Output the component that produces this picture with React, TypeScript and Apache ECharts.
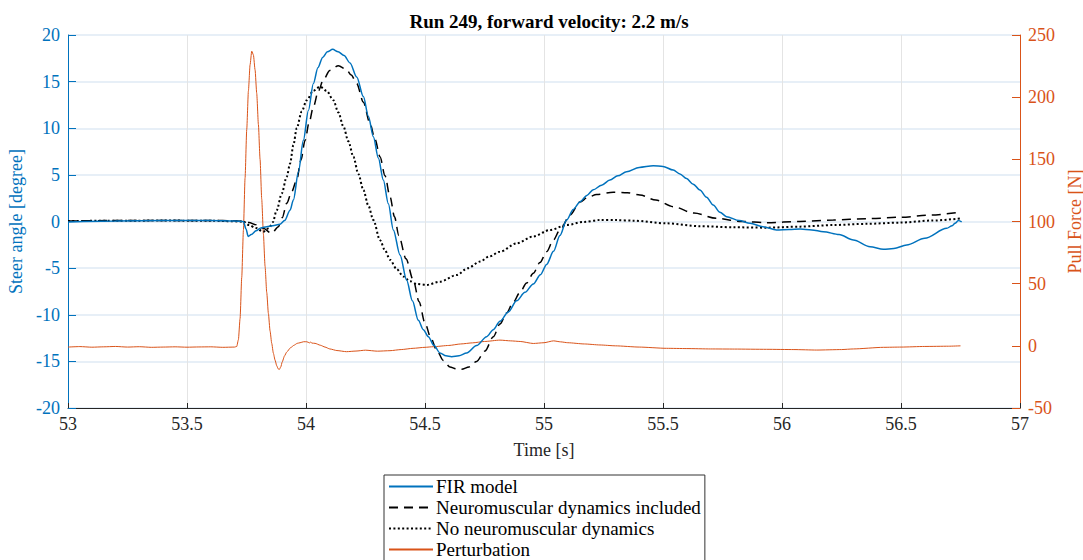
import React, { useEffect, useRef } from "react";
import * as echarts from "echarts";

const titleText = "Run 249, forward velocity: 2.2 m/s";
const xTicks = [53, 53.5, 54, 54.5, 55, 55.5, 56, 56.5, 57];

const firTime = [53.0, 53.2, 53.4, 53.6, 53.7, 53.737, 53.748, 53.757, 53.77, 53.79, 53.81, 53.835, 53.86, 53.89, 53.91, 53.933, 53.947, 53.968, 53.989, 54.01, 54.031, 54.05, 54.07, 54.09, 54.112, 54.135, 54.16, 54.185, 54.213, 54.241, 54.262, 54.283, 54.304, 54.325, 54.346, 54.367, 54.395, 54.423, 54.447, 54.472, 54.493, 54.514, 54.538, 54.563, 54.588, 54.612, 54.643, 54.675, 54.717, 54.759, 54.787, 54.815, 54.85, 54.885, 54.92, 54.955, 54.985, 55.011, 55.04, 55.067, 55.095, 55.123, 55.151, 55.18, 55.207, 55.242, 55.277, 55.31, 55.347, 55.4, 55.459, 55.5, 55.543, 55.571, 55.599, 55.627, 55.655, 55.683, 55.711, 55.739, 55.767, 55.82, 55.866, 55.92, 55.977, 56.03, 56.076, 56.125, 56.174, 56.24, 56.3, 56.37, 56.426, 56.47, 56.524, 56.6, 56.692, 56.715, 56.727, 56.741, 56.755];
const firAngle = [-0.05, 0.05, 0.1, 0.1, 0.05, 0.0, -0.8, -1.6, -1.4, -1.0, -0.7, -0.55, -0.45, -0.3, 0.1, 1.2, 2.3, 5.3, 8.7, 11.9, 14.8, 16.5, 17.6, 18.2, 18.46, 18.2, 17.8, 17.0, 15.5, 13.4, 11.3, 9.1, 6.8, 4.45, 1.9, -0.9, -3.6, -6.3, -8.5, -10.6, -11.6, -12.35, -13.3, -14.1, -14.4, -14.5, -14.4, -14.1, -13.3, -12.35, -11.6, -10.7, -9.7, -8.5, -7.6, -6.7, -5.7, -4.6, -3.2, -1.5, 0.16, 1.3, 2.1, 2.8, 3.4, 3.9, 4.45, 4.9, 5.34, 5.8, 5.98, 5.9, 5.52, 5.1, 4.6, 4.0, 3.38, 2.6, 1.77, 1.0, 0.52, 0.1, -0.2, -0.55, -0.91, -0.85, -0.8, -0.9, -1.09, -1.4, -1.98, -2.7, -2.98, -2.9, -2.52, -1.8, -0.73, -0.45, -0.2, 0.1, -0.05];

const nmTime = [53.0, 53.2, 53.4, 53.6, 53.7, 53.76, 53.79, 53.82, 53.856, 53.884, 53.9, 53.919, 53.94, 53.961, 53.979, 53.996, 54.013, 54.031, 54.052, 54.073, 54.1, 54.136, 54.17, 54.19, 54.213, 54.241, 54.269, 54.29, 54.311, 54.332, 54.353, 54.372, 54.39, 54.42, 54.451, 54.475, 54.5, 54.525, 54.549, 54.577, 54.605, 54.63, 54.654, 54.685, 54.717, 54.752, 54.787, 54.815, 54.843, 54.87, 54.899, 54.927, 54.955, 54.983, 55.011, 55.039, 55.067, 55.11, 55.151, 55.185, 55.221, 55.291, 55.35, 55.403, 55.47, 55.543, 55.63, 55.725, 55.83, 55.935, 56.076, 56.216, 56.356, 56.496, 56.63, 56.754];
const nmAngle = [0.05, 0.1, 0.12, 0.12, 0.08, -0.1, -0.35, -0.73, -1.27, -0.55, 0.4, 1.95, 3.2, 4.45, 6.6, 8.7, 10.6, 12.3, 14.0, 15.2, 16.2, 16.7, 16.3, 15.7, 14.8, 12.8, 10.5, 8.8, 6.95, 4.9, 2.66, 0.5, -1.5, -4.0, -6.3, -8.6, -10.9, -12.5, -13.8, -14.9, -15.6, -15.8, -15.85, -15.6, -15.0, -13.9, -12.35, -11.0, -9.8, -8.7, -7.6, -6.6, -5.56, -4.4, -3.24, -2.0, -0.9, 0.7, 2.1, 2.6, 2.9, 3.13, 3.08, 2.84, 2.3, 1.59, 0.9, 0.34, 0.0, -0.13, 0.0, 0.16, 0.3, 0.45, 0.7, 1.02];

const noNmTime = [53.0, 53.2, 53.4, 53.6, 53.737, 53.76, 53.79, 53.82, 53.845, 53.86, 53.877, 53.898, 53.919, 53.933, 53.947, 53.961, 53.982, 54.003, 54.03, 54.059, 54.087, 54.115, 54.136, 54.157, 54.178, 54.199, 54.22, 54.241, 54.262, 54.283, 54.311, 54.332, 54.353, 54.381, 54.409, 54.437, 54.465, 54.507, 54.563, 54.633, 54.68, 54.731, 54.77, 54.815, 54.885, 54.955, 55.025, 55.095, 55.165, 55.235, 55.305, 55.375, 55.515, 55.655, 55.795, 55.935, 56.076, 56.216, 56.356, 56.496, 56.63, 56.754];
const noNmAngle = [0.05, 0.08, 0.1, 0.08, 0.0, -0.38, -0.7, -1.1, -0.7, -0.1, 1.2, 3.0, 4.8, 6.2, 8.2, 10.0, 11.8, 13.0, 14.0, 14.46, 14.0, 13.0, 11.7, 10.2, 8.6, 6.95, 5.1, 3.38, 1.7, 0.16, -2.0, -3.1, -4.1, -5.1, -5.9, -6.4, -6.7, -6.8, -6.45, -5.74, -5.0, -4.3, -3.75, -3.24, -2.34, -1.6, -0.91, -0.38, -0.05, 0.16, 0.15, 0.09, -0.2, -0.5, -0.62, -0.66, -0.55, -0.38, -0.25, -0.12, 0.1, 0.34];

const pertTime = [53.0, 53.05, 53.1, 53.15, 53.2, 53.25, 53.3, 53.35, 53.4, 53.45, 53.5, 53.55, 53.6, 53.65, 53.7, 53.709, 53.716, 53.723, 53.73, 53.737, 53.744, 53.751, 53.758, 53.765, 53.772, 53.779, 53.786, 53.793, 53.8, 53.807, 53.814, 53.821, 53.828, 53.835, 53.842, 53.849, 53.856, 53.863, 53.87, 53.877, 53.883, 53.888, 53.894, 53.9, 53.91, 53.919, 53.935, 53.95, 53.963, 53.975, 53.99, 54.003, 54.015, 54.02, 54.025, 54.038, 54.06, 54.08, 54.1, 54.13, 54.17, 54.21, 54.25, 54.3, 54.353, 54.4, 54.45, 54.5, 54.535, 54.6, 54.65, 54.7, 54.75, 54.815, 54.86, 54.9, 54.955, 55.0, 55.04, 55.07, 55.1, 55.17, 55.235, 55.3, 55.4, 55.515, 55.6, 55.7, 55.8, 55.935, 56.05, 56.146, 56.25, 56.3, 56.426, 56.5, 56.6, 56.7, 56.75];
const pertForce = [-1.0, -0.6, -1.1, -0.8, -0.5, -1.0, -0.7, -1.2, -1.0, -0.8, -1.1, -0.9, -0.8, -1.2, -1.0, -0.5, 5, 22, 55, 93, 135, 174, 205, 226, 237, 234, 222, 203, 178, 150, 118, 90, 64, 43, 26, 12, 2, -6, -11.5, -16, -18.5, -19, -17, -13, -8, -5, -1.5, 0.5, 2.0, 2.5, 3.3, 3.3, 2.4, 3.0, 2.2, 2.0, 0.5, -1.0, -2.5, -3.8, -4.7, -4.2, -3.5, -4.3, -3.9, -3.0, -2.0, -1.2, -0.7, 0.3, 1.5, 2.4, 3.5, 4.6, 4.0, 3.5, 1.9, 2.5, 4.0, 3.2, 2.5, 1.5, 0.7, 0.0, -1.0, -2.0, -2.2, -2.5, -2.6, -2.8, -3.0, -3.4, -3.0, -2.5, -1.2, -1.0, -0.5, -0.3, 0.0];

const seriesNames = ["FIR model", "Neuromuscular dynamics included", "No neuromuscular dynamics", "Perturbation"];

const zip = (t: number[], v: number[]) => t.map((x, i) => [x, v[i]]);

const FONT = "'Liberation Serif', 'Times New Roman', serif";
const BLUE = "#0072BD";
const ORANGE = "#D95319";
const FS = 18;

export default function App() {
  const ref = useRef<HTMLDivElement>(null);
  useEffect(() => {
    if (!ref.current) return;
    const chart = echarts.init(ref.current, undefined, { renderer: "svg" });
    chart.setOption({
      animation: false,
      backgroundColor: "#ffffff",
      textStyle: { fontFamily: FONT },
      title: {
        text: titleText,
        left: 544,
        textAlign: "center",
        top: 7,
        textStyle: { fontFamily: FONT, fontSize: 19, fontWeight: "bold", color: "#000" },
      },
      grid: { left: 68, right: 63, top: 35, bottom: 192, containLabel: false, outerBoundsMode: "none" },
      legend: {
        data: seriesNames,
        orient: "vertical",
        left: 384,
        top: 475,
        itemWidth: 44,
        itemHeight: 14,
        itemGap: 2,
        padding: [2, 4, 10, 4],
        borderColor: "#333",
        borderWidth: 1,
        borderRadius: 0,
        backgroundColor: "#fff",
        itemStyle: { opacity: 0 },
        textStyle: { fontFamily: FONT, fontSize: 19, color: "#000", padding: [0, 0, 0, -2] },
      },
      xAxis: {
        type: "value",
        min: 53,
        max: 57,
        interval: 0.5,
        name: "Time [s]",
        nameLocation: "middle",
        nameGap: 33,
        nameTextStyle: { fontFamily: FONT, fontSize: FS, color: "#262626" },
        axisLine: { onZero: false, lineStyle: { color: "#262626", width: 1 } },
        axisTick: { inside: true, length: 5, lineStyle: { color: "#262626" } },
        axisLabel: {
          fontFamily: FONT, fontSize: FS, color: "#262626", margin: 7,
          formatter: (v: number) => (xTicks.includes(v) ? String(v) : ""),
        },
        splitLine: { show: true, lineStyle: { color: "#e4e4e4", width: 1 } },
      },
      yAxis: [
        {
          type: "value",
          min: -20,
          max: 20,
          interval: 5,
          position: "left",
          name: "Steer angle [degree]",
          nameLocation: "middle",
          nameGap: 42,
          nameTextStyle: { fontFamily: FONT, fontSize: FS, color: BLUE },
          axisLine: { show: true, onZero: false, lineStyle: { color: BLUE, width: 1 } },
          axisTick: { show: true, inside: true, length: 8, lineStyle: { color: BLUE } },
          axisLabel: { fontFamily: FONT, fontSize: FS, color: BLUE, margin: 8 },
          splitLine: { show: true, lineStyle: { color: "#dfeaf5", width: 1.5 } },
        },
        {
          type: "value",
          min: -50,
          max: 250,
          interval: 50,
          position: "right",
          name: "Pull Force [N]",
          nameLocation: "middle",
          nameGap: 38,
          nameRotate: 90,
          nameTextStyle: { fontFamily: FONT, fontSize: FS, color: ORANGE },
          axisLine: { show: true, onZero: false, lineStyle: { color: ORANGE, width: 1 } },
          axisTick: { show: true, inside: true, length: 8, lineStyle: { color: ORANGE } },
          axisLabel: { fontFamily: FONT, fontSize: FS, color: ORANGE, margin: 8 },
          splitLine: { show: false },
        },
      ],
      series: [
        {
          name: seriesNames[0],
          type: "line",
          yAxisIndex: 0,
          data: zip(firTime, firAngle),
          showSymbol: false,
          symbol: "none",
          smooth: 0.3,
          smoothMonotone: "x",
          lineStyle: { color: BLUE, width: 1.5 },
          itemStyle: { color: BLUE },
          z: 4,
        },
        {
          name: seriesNames[1],
          type: "line",
          yAxisIndex: 0,
          data: zip(nmTime, nmAngle),
          showSymbol: false,
          symbol: "none",
          smooth: 0.3,
          smoothMonotone: "x",
          lineStyle: { color: "#000", width: 1.5, type: [9, 6] },
          itemStyle: { color: "#000" },
          z: 3,
        },
        {
          name: seriesNames[2],
          type: "line",
          yAxisIndex: 0,
          data: zip(noNmTime, noNmAngle),
          showSymbol: false,
          symbol: "none",
          smooth: 0.3,
          smoothMonotone: "x",
          lineStyle: { color: "#000", width: 2, type: [2, 2.4] },
          itemStyle: { color: "#000" },
          z: 3,
        },
        {
          name: seriesNames[3],
          type: "line",
          yAxisIndex: 1,
          data: zip(pertTime, pertForce),
          showSymbol: false,
          symbol: "none",
          smooth: 0.2,
          smoothMonotone: "x",
          lineStyle: { color: ORANGE, width: 1 },
          itemStyle: { color: ORANGE },
          z: 2,
        },
      ],
    });
    return () => chart.dispose();
  }, []);
  return <div ref={ref} style={{ width: 1083, height: 600, position: "absolute", left: 0, top: 0 }} />;
}
